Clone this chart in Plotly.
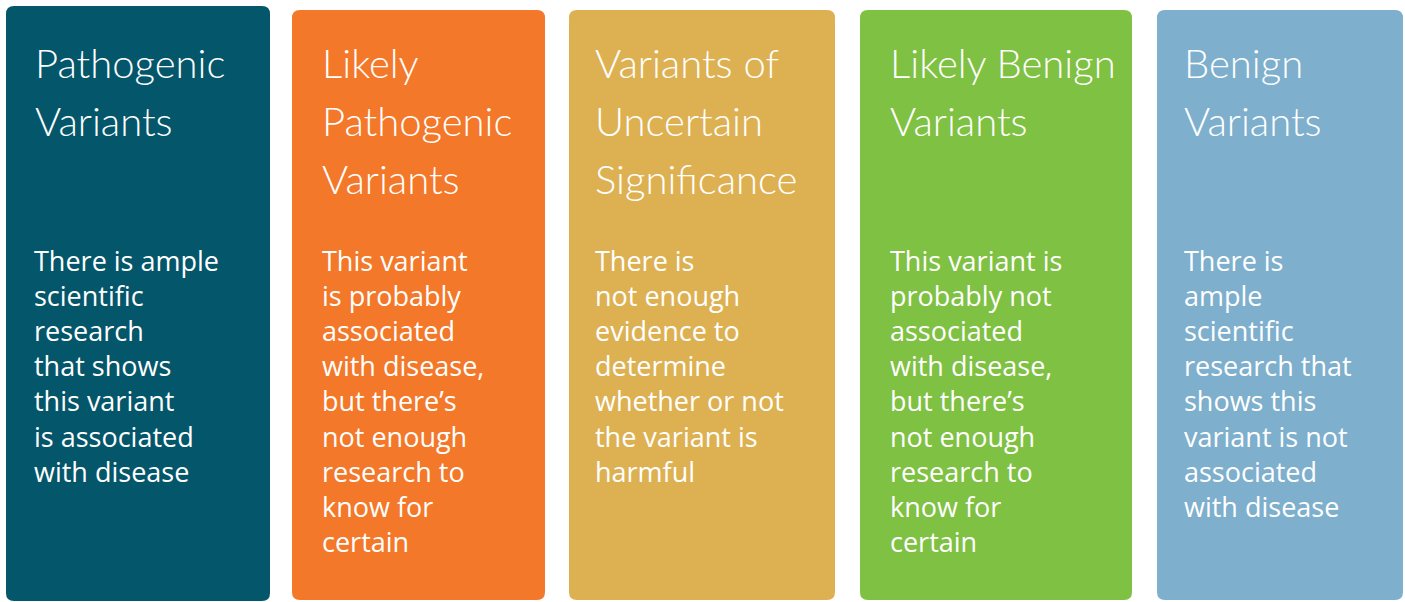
import plotly.graph_objects as go

# ---- content ----
categories = ["Pathogenic", "Likely Pathogenic", "Uncertain", "Likely Benign", "Benign"]
title_lines = [
    ["Pathogenic", "Variants"],
    ["Likely", "Pathogenic", "Variants"],
    ["Variants of", "Uncertain", "Significance"],
    ["Likely Benign", "Variants"],
    ["Benign", "Variants"],
]
body_lines = [
    ["There is ample", "scientific", "research", "that shows", "this variant", "is associated", "with disease"],
    ["This variant", "is probably", "associated", "with disease,", "but there\u2019s", "not enough", "research to", "know for", "certain"],
    ["There is", "not enough", "evidence to", "determine", "whether or not", "the variant is", "harmful"],
    ["This variant is", "probably not", "associated", "with disease,", "but there\u2019s", "not enough", "research to", "know for", "certain"],
    ["There is", "ample", "scientific", "research that", "shows this", "variant is not", "associated", "with disease"],
]
colors = ["#04566A", "#F37829", "#DDB152", "#7FC143", "#7EAFCD"]

# ---- layout geometry ----
W, H = 1405, 602
panel_x0 = [6, 292, 569, 860, 1157]
panel_x1 = [270, 545, 835, 1132, 1403]
panel_y0 = [6, 10, 10, 10, 10]
panel_y1 = [601, 600, 600, 600, 600]
radius = 8
title_x = [36, 323, 596, 891, 1185]
body_x = [35, 323, 596, 891, 1185]
title_y0, title_dy = 63, 58
body_y0 = 261          # centre of first body line
BODY_SIZE = 27
body_dy = 1.3 * BODY_SIZE  # plotly multi-line spacing

TITLE_FONT = "Lato, Roboto, sans-serif"
BODY_FONT = "Open Sans, Noto Sans, sans-serif"


def rounded_rect(x0, y0, x1, y1, r):
    return (f"M {x0+r},{y0} L {x1-r},{y0} Q {x1},{y0} {x1},{y0+r} "
            f"L {x1},{y1-r} Q {x1},{y1} {x1-r},{y1} L {x0+r},{y1} "
            f"Q {x0},{y1} {x0},{y1-r} L {x0},{y0+r} Q {x0},{y0} {x0+r},{y0} Z")


fig = go.Figure()
shapes, annotations = [], []
for i, cat in enumerate(categories):
    shapes.append(dict(type="path", xref="x", yref="y",
                       path=rounded_rect(panel_x0[i], panel_y0[i], panel_x1[i], panel_y1[i], radius),
                       fillcolor=colors[i], line=dict(width=0), layer="below"))
    for j, t in enumerate(title_lines[i]):
        annotations.append(dict(x=title_x[i] - 3, y=title_y0 + j * title_dy, xref="x", yref="y",
                                text=t, showarrow=False, xanchor="left", yanchor="middle",
                                font=dict(family=TITLE_FONT, size=40, weight=300, color="white")))
    n = len(body_lines[i])
    annotations.append(dict(x=body_x[i] - 3, y=body_y0 + (n - 1) * body_dy / 2, xref="x", yref="y",
                            text="<br>".join(body_lines[i]), showarrow=False,
                            xanchor="left", yanchor="middle", align="left",
                            font=dict(family=BODY_FONT, size=BODY_SIZE, color="white")))

fig.update_layout(
    width=W, height=H,
    margin=dict(l=0, r=0, t=0, b=0),
    paper_bgcolor="white", plot_bgcolor="white",
    xaxis=dict(range=[0, W], visible=False, fixedrange=True),
    yaxis=dict(range=[H, 0], visible=False, fixedrange=True),
    shapes=shapes, annotations=annotations, showlegend=False,
)
fig.write_html("out.html", config={"displayModeBar": False},
               post_script="document.body.style.margin='0';document.body.style.overflow='hidden';")
